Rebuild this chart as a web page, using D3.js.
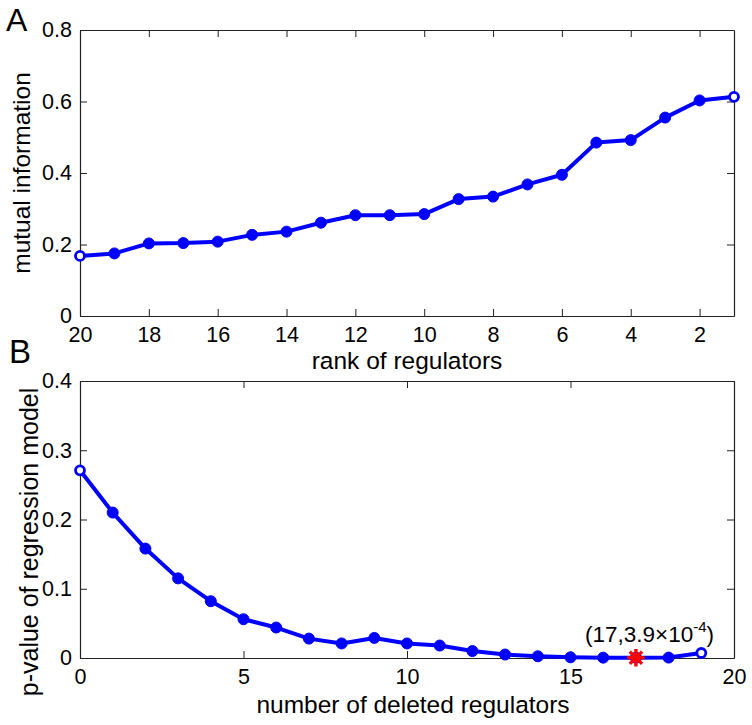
<!DOCTYPE html>
<html>
<head>
<meta charset="utf-8">
<script src="https://cdn.jsdelivr.net/npm/d3@7"></script>
<style>
  html, body { margin: 0; padding: 0; background: #fff; }
  svg { display: block; font-family: "Liberation Sans", Arial, sans-serif; }
</style>
</head>
<body>
<svg id="chart" width="752" height="725"></svg>
<script>
// ---- Data ----
const ranks = [20,19,18,17,16,15,14,13,12,11,10,9,8,7,6,5,4,3,2,1];
const mutualInfo = [0.168,0.175,0.203,0.204,0.208,0.227,0.236,0.261,0.282,0.282,0.285,0.327,0.334,0.368,0.395,0.485,0.492,0.555,0.603,0.613];
const rankTicks = [20,18,16,14,12,10,8,6,4,2];
const miTicks = [0,0.2,0.4,0.6,0.8];

const deleted = [0,1,2,3,4,5,6,7,8,9,10,11,12,13,14,15,16,17,18,19];
const pValues = [0.271,0.210,0.158,0.115,0.082,0.056,0.044,0.028,0.021,0.029,0.021,0.018,0.010,0.005,0.0025,0.001,0.0005,0.00039,0.0006,0.0072];
const deletedTicks = [0,5,10,15,20];
const pTicks = [0,0.1,0.2,0.3,0.4];
const best = {x: 17, y: 0.00039};

// ---- Setup ----
const svg = d3.select("#chart");
const blue = "#0000ff";
const fmt = d => d === 0 ? "0" : String(d);
const tickFont = 21.5, labelFont = 24.5;

function box(g, x, y, xTicks, yTicks) {
  const [x0, x1] = x.range(), [y0, y1] = y.range();
  const ax = (a, t) => a.tickValues(t).tickSize(-7).tickSizeOuter(0);
  const b = g.append("g").attr("transform", `translate(0,${y0})`)
    .call(ax(d3.axisBottom(x), xTicks).tickPadding(11).tickFormat(fmt));
  const l = g.append("g").attr("transform", `translate(${x0},0)`)
    .call(ax(d3.axisLeft(y), yTicks).tickPadding(8).tickFormat(fmt));
  const t = g.append("g").attr("transform", `translate(0,${y1})`)
    .call(ax(d3.axisTop(x), xTicks).tickFormat(""));
  const r = g.append("g").attr("transform", `translate(${x1},0)`)
    .call(ax(d3.axisRight(y), yTicks).tickFormat(""));
  [b, l, t, r].forEach(a => {
    a.selectAll("path.domain").attr("stroke", "#222").attr("stroke-width", 1.2);
    a.selectAll(".tick line").attr("stroke", "#222").attr("stroke-width", 1);
    a.selectAll("text").attr("font-size", tickFont).attr("fill", "#000")
      .attr("font-family", "Liberation Sans, Arial, sans-serif");
  });
  return {b, l};
}

function series(g, x, y, xs, ys) {
  const pts = xs.map((d, i) => [d, ys[i]]);
  const end = i => i === 0 || i === pts.length - 1;
  g.append("path").datum(pts)
    .attr("fill", "none").attr("stroke", blue).attr("stroke-width", 4)
    .attr("stroke-linejoin", "round")
    .attr("d", d3.line().x(d => x(d[0])).y(d => y(d[1])));
  g.selectAll("circle.m").data(pts).enter().append("circle")
    .attr("class", "m")
    .attr("cx", d => x(d[0])).attr("cy", d => y(d[1]))
    .attr("r", (d, i) => end(i) ? 4.5 : 5.5)
    .attr("fill", (d, i) => end(i) ? "#fff" : blue)
    .attr("stroke", blue).attr("stroke-width", (d, i) => end(i) ? 2.8 : 1);
}

// ---- Panel A ----
const xA = d3.scaleLinear().domain([20, 1]).range([80, 734]);
const yA = d3.scaleLinear().domain([0, 0.8]).range([316, 30]);
const gA = svg.append("g");
box(gA, xA, yA, rankTicks, miTicks);
series(gA, xA, yA, ranks, mutualInfo);
gA.append("text").attr("x", 407).attr("y", 369).attr("text-anchor", "middle")
  .attr("font-size", labelFont).text("rank of regulators");
gA.append("text").attr("transform", `translate(30,173) rotate(-90)`)
  .attr("text-anchor", "middle").attr("font-size", labelFont).text("mutual information");
gA.append("text").attr("x", 6).attr("y", 31).attr("font-size", 32).text("A");

// ---- Panel B ----
const xB = d3.scaleLinear().domain([0, 20]).range([80, 734]);
const yB = d3.scaleLinear().domain([0, 0.4]).range([658, 381]);
const gB = svg.append("g");
box(gB, xB, yB, deletedTicks, pTicks);
series(gB, xB, yB, deleted, pValues);

// red asterisk (plus + cross)
const asterisk = {
  draw(ctx, size) {
    const r = Math.sqrt(size) / 2, d = r * Math.SQRT1_2;
    ctx.moveTo(-r, 0); ctx.lineTo(r, 0);
    ctx.moveTo(0, -r); ctx.lineTo(0, r);
    ctx.moveTo(-d, -d); ctx.lineTo(d, d);
    ctx.moveTo(-d, d); ctx.lineTo(d, -d);
  }
};
gB.append("path")
  .attr("transform", `translate(${xB(best.x)},${yB(best.y)})`)
  .attr("d", d3.symbol().type(asterisk).size(300)())
  .attr("stroke", "#ff0000").attr("stroke-width", 3.4).attr("fill", "none");

const ann = gB.append("text").attr("x", 585).attr("y", 642).attr("font-size", 22.5);
ann.append("tspan").text(`(${best.x},3.9\u00d710`);
ann.append("tspan").attr("font-size", 15).attr("dy", -10).text("-4");
ann.append("tspan").attr("dy", 10).text(")");

gB.append("text").attr("x", 413).attr("y", 713).attr("text-anchor", "middle")
  .attr("font-size", labelFont).text("number of deleted regulators");
gB.append("text").attr("transform", `translate(38,542) rotate(-90)`)
  .attr("text-anchor", "middle").attr("font-size", labelFont + 0.5).text("p-value of regression model");
gB.append("text").attr("x", 9).attr("y", 363).attr("font-size", 33).text("B");
</script>
</body>
</html>
